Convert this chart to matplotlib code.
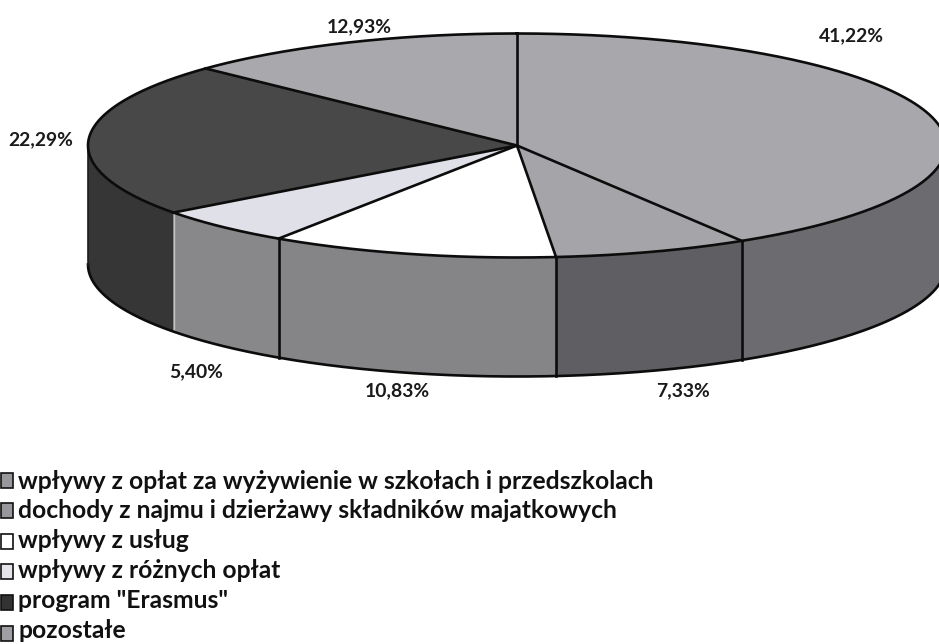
import numpy as np
import matplotlib
matplotlib.use("Agg")
import matplotlib.pyplot as plt
from matplotlib.patches import Polygon, Rectangle

# ── dane ──────────────────────────────────────────────
categories = [
    "wpływy z opłat za wyżywienie w szkołach i przedszkolach",
    "dochody z najmu i dzierżawy składników majatkowych",
    "wpływy z usług",
    "wpływy z różnych opłat",
    'program "Erasmus"',
    "pozostałe",
]
shares = [41.22, 7.33, 10.83, 5.40, 22.29, 12.93]
pct_labels = ["41,22%", "7,33%", "10,83%", "5,40%", "22,29%", "12,93%"]

top_colors = ["#a8a8ac", "#a5a5a9", "#ffffff", "#e0e0e8", "#484848", "#a9a9ad"]
side_colors = ["#6c6c70", "#5f5f63", "#858588", "#88888b", "#363636", "#6c6c70"]
legend_colors = ["#98989c", "#98989c", "#ffffff", "#e4e4ea", "#333333", "#a0a0a4"]

label_pos = [(851, 36), (683, 391), (397, 391), (196, 372), (41, 140), (359, 27)]

# ── geometria (piksele) ───────────────────────────────
CX, CY = 517, 145.5
RX, RY = 429, 112
DEPTH = 119
LW = 1.9

plt.rcParams["font.family"] = ["Lato", "DejaVu Sans"]

fig = plt.figure(figsize=(9.39, 6.44), dpi=100)
ax = fig.add_axes([0, 0, 1, 1])
ax.set_xlim(0, 939)
ax.set_ylim(644, 0)
ax.axis("off")


def arc(start, end, dy=0.0):
    t = np.radians(np.linspace(start, end, max(int(abs(end - start)) * 2, 2)))
    return np.column_stack([CX + RX * np.sin(t), CY - RY * np.cos(t) + dy])


edges = np.concatenate([[0], np.cumsum(shares)]) / sum(shares) * 360

# boki, tylko przednia połowa
for i in range(len(shares)):
    a, b = max(edges[i], 90), min(edges[i + 1], 270)
    if a >= b:
        continue
    pts = np.vstack([arc(a, b), arc(a, b, DEPTH)[::-1]])
    ax.add_patch(Polygon(pts, closed=True, fc=side_colors[i], ec="none", zorder=2))
    p = arc(b, b + 1)[0]
    if 90 < b < 230:
        ax.plot([p[0], p[0]], [p[1], p[1] + DEPTH], color="#0c0c0c", lw=LW, zorder=4)
    elif b < 270:
        # jasna krawędź między ciemnym bokiem a sąsiednim
        ax.plot([p[0] + 1, p[0] + 1], [p[1], p[1] + DEPTH], color="#c4c4c6", lw=1, zorder=4)

front = arc(90, 270, DEPTH)
ax.plot(front[:, 0], front[:, 1], color="#0c0c0c", lw=LW, zorder=4)

# wierzch
for i in range(len(shares)):
    pts = np.vstack([[CX, CY], arc(edges[i], edges[i + 1])])
    ax.add_patch(Polygon(pts, closed=True, fc=top_colors[i], ec="none", zorder=3))
    p = arc(edges[i], edges[i] + 1)[0]
    ax.plot([CX, p[0]], [CY, p[1]], color="#0c0c0c", lw=LW, zorder=5)

rim = arc(0, 360)
ax.plot(rim[:, 0], rim[:, 1], color="#0c0c0c", lw=LW, zorder=5)

ax.plot([CX - RX, CX - RX], [CY, CY + DEPTH], color="#1c1c1c", lw=1.2, zorder=4)

for txt, (x, y) in zip(pct_labels, label_pos):
    ax.text(x, y, txt, ha="center", va="center", fontsize=13.9,
            fontweight="bold", color="#1a1a1a", zorder=6)

# legenda
for i, (name, col) in enumerate(zip(categories, legend_colors)):
    y = 480 + i * 30.6
    ax.add_patch(Rectangle((1, y - 7.5), 12, 15, fc=col, ec="#111111", lw=1.2, zorder=6))
    ax.text(18, 481 + i * 30, name, ha="left", va="center", fontsize=17.7,
            fontweight="bold", color="#111111", zorder=6)

fig.savefig("out.png", dpi=100, facecolor="white")
